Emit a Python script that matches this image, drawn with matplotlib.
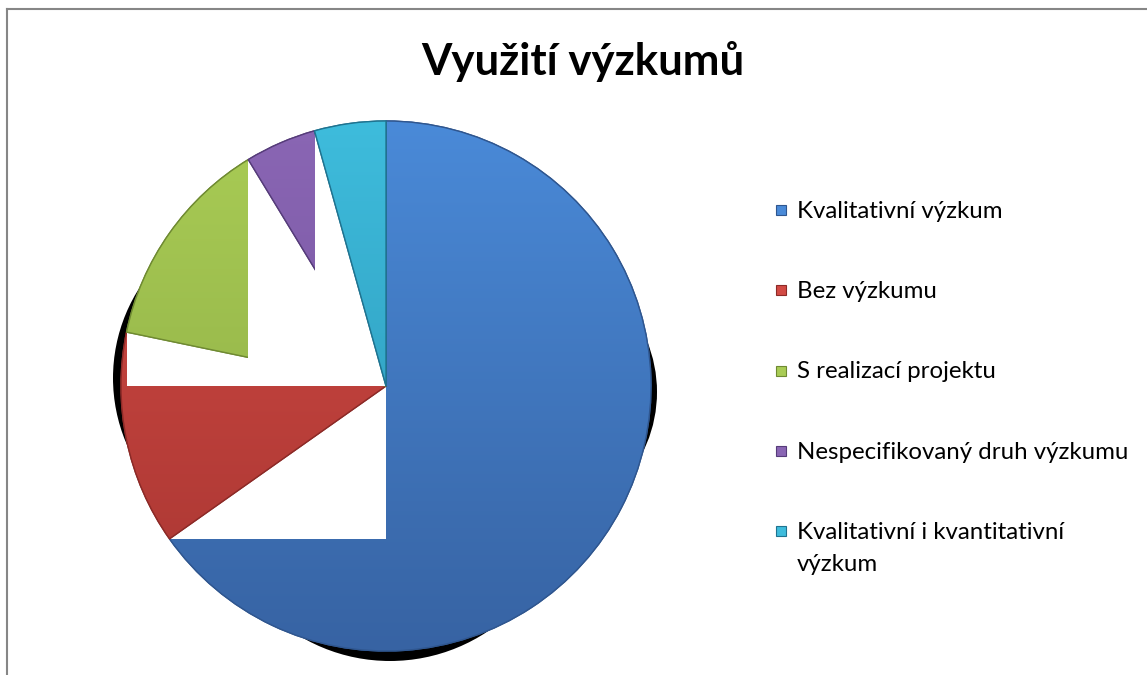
import numpy as np
import matplotlib
matplotlib.use("Agg")
import matplotlib.pyplot as plt
from matplotlib.patches import Wedge, Rectangle, Circle
from matplotlib.lines import Line2D
from matplotlib.colors import LinearSegmentedColormap

# ---- data ----
title = "Využití výzkumů"
categories = ["Kvalitativní výzkum", "Bez výzkumu", "S realizací projektu",
              "Nespecifikovaný druh výzkumu", "Kvalitativní i kvantitativní\nvýzkum"]
values = [15, 3, 3, 1, 1]
colors_top = ["#4a8ad8", "#d24a44", "#a9cc55", "#8a66b4", "#3ebcdc"]
colors_bot = ["#3763a3", "#a83632", "#8aa843", "#6e4e98", "#2a92b4"]
edge_cols = ["#2f568f", "#8c2a27", "#6f8a32", "#563c7a", "#1f7390"]

W, H = 1147, 675
fig = plt.figure(figsize=(W / 100, H / 100), dpi=100)
fig.patch.set_facecolor("white")

# pie axes: center at (386, 386) px, radius 265 px
cx, cy, R = 386, 386, 265.0
half = 300
ax = fig.add_axes([(cx - half) / W, (H - cy - half) / H, 2 * half / W, 2 * half / H])
ax.set_xlim(-half / R, half / R)
ax.set_ylim(-half / R, half / R)
ax.axis("off")

# shadow crescents behind the pie (left, right, bottom)
for (sx, sy, rad) in [(-106, 8, 167), (136, -6, 135), (4, -99, 176)]:
    ax.add_patch(Circle((sx / R, sy / R), rad / R, facecolor="black",
                        edgecolor="none", zorder=1))

total = float(sum(values))
start = 0.0
grad = np.linspace(1, 0, 256).reshape(-1, 1)
for i, v in enumerate(values):
    end = start + v / total * 360.0
    t1, t2 = 90 - end, 90 - start
    z = 2 + 2 * i
    w = Wedge((0, 0), 1.0, t1, t2, facecolor=colors_top[i], edgecolor=edge_cols[i],
              linewidth=1.0, zorder=z)
    ax.add_patch(w)
    cmap = LinearSegmentedColormap.from_list("g%d" % i, [colors_bot[i], colors_top[i]])
    im = ax.imshow(grad, cmap=cmap, extent=[-1, 1, -1, 1], aspect="auto",
                   zorder=z + 0.1, interpolation="bilinear")
    im.set_clip_path(w)
    we = Wedge((0, 0), 1.0, t1, t2, facecolor="none", edgecolor=edge_cols[i],
               linewidth=1.0, zorder=z + 0.2)
    ax.add_patch(we)
    # rendering artefact of the original: white box between centre and the slice's end point
    ang = np.deg2rad(t1)
    ax.add_patch(Rectangle((0, 0), np.cos(ang), np.sin(ang), facecolor="white",
                           edgecolor="none", zorder=z + 1))
    start = end

# title
fig.text(583 / W, 1 - 75 / H, title, ha="center", va="baseline", fontsize=31.5,
         fontweight="bold", family=["Lato", "DejaVu Sans"], color="black")

# legend (drawn manually)
lx, base0, gap, line_h = 776, 218, 80.25, 32
for i, lab in enumerate(categories):
    yb = base0 + i * gap
    fig.add_artist(Rectangle((lx / W, 1 - (yb - 3) / H), 10 / W, 10 / H,
                             transform=fig.transFigure, facecolor=colors_top[i],
                             edgecolor=edge_cols[i], linewidth=0.8))
    for k, line in enumerate(lab.split("\n")):
        fig.text(797 / W, 1 - (yb + k * line_h) / H, line, ha="left", va="baseline",
                 fontsize=17.3, family=["Lato", "DejaVu Sans"], color="black")

# chart frame (left and top edges visible)
fig.add_artist(Line2D([7.5 / W, 7.5 / W], [0, 1 - 9 / H], transform=fig.transFigure,
                      color="#868686", linewidth=1.5))
fig.add_artist(Line2D([7 / W, 1], [1 - 9 / H, 1 - 9 / H], transform=fig.transFigure,
                      color="#868686", linewidth=1.5))

fig.savefig("out.png", dpi=100, facecolor="white")
